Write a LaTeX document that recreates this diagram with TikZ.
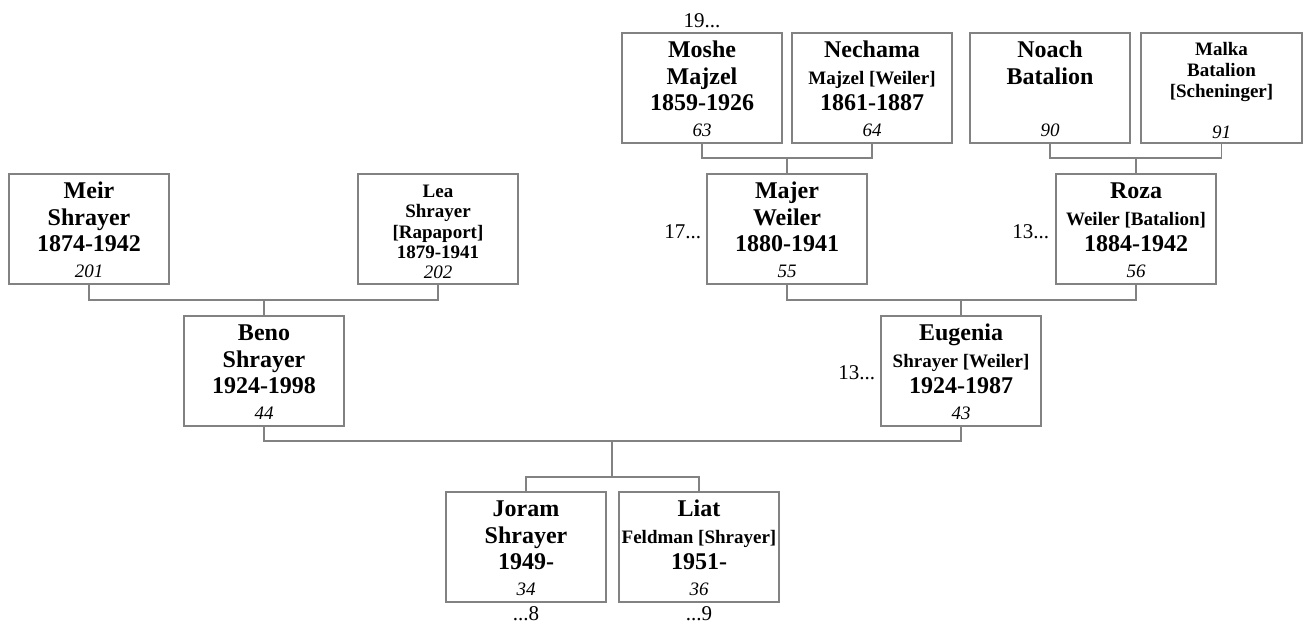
\documentclass[tikz,border=0pt]{standalone}
\usepackage{fontspec}
\setmainfont{Liberation Serif}
\definecolor{lc}{RGB}{130,130,130}
\newcommand\fbig{\fontsize{24}{26}\selectfont\bfseries}
\newcommand\fmid{\fontsize{19}{21}\selectfont\bfseries}
\newcommand\fnum{\fontsize{19}{21}\selectfont\itshape}
\newcommand\flab{\fontsize{21}{23}\selectfont}
\tikzset{
  pbox/.style={draw=lc, line width=1.3pt, rectangle, minimum width=160pt, minimum height=110pt, inner sep=0pt, outer sep=0pt, anchor=north west},
  txt/.style={anchor=base, inner sep=0pt, outer sep=0pt},
  conn/.style={draw=lc, line width=1.3pt},
  lab/.style={inner sep=0pt, outer sep=0pt, font=\flab},
}
% name, x, y, line1, line2, line3, num
\newcommand\person[7]{%
  \node[pbox] (#1) at (#2,#3) {};
  \node[txt] at ([yshift=-24.5pt]#1.north) {#4};
  \node[txt] at ([yshift=-51pt]#1.north) {#5};
  \node[txt] at ([yshift=-77pt]#1.north) {#6};
  \node[txt] at ([yshift=-103.5pt]#1.north) {\fnum #7};
}
\begin{document}
\begin{tikzpicture}[x=1pt,y=-1pt]
\useasboundingbox (0,0) rectangle (1303,625);
% generation 1
\person{moshe}{622}{33}{\fbig Moshe}{\fbig Majzel}{\fbig 1859-1926}{63}
\person{nechama}{792}{33}{\fbig Nechama}{\fmid Majzel [Weiler]}{\fbig 1861-1887}{64}
\person{noach}{970}{33}{\fbig Noach}{\fbig Batalion}{}{90}
\node[pbox, minimum width=161pt] (malka) at (1141,33) {};
\node[txt] at ([yshift=-22pt]malka.north) {\fmid Malka};
\node[txt] at ([yshift=-43pt]malka.north) {\fmid Batalion};
\node[txt] at ([yshift=-64pt]malka.north) {\fmid [Scheninger]};
\node[txt] at ([yshift=-105pt]malka.north) {\fnum 91};
% generation 2
\person{meir}{9}{174}{\fbig Meir}{\fbig Shrayer}{\fbig 1874-1942}{201}
\node[pbox] (lea) at (358,174) {};
\node[txt] at ([yshift=-23pt]lea.north) {\fmid Lea};
\node[txt] at ([yshift=-43.5pt]lea.north) {\fmid Shrayer};
\node[txt] at ([yshift=-64pt]lea.north) {\fmid [Rapaport]};
\node[txt] at ([yshift=-84pt]lea.north) {\fmid 1879-1941};
\node[txt] at ([yshift=-104pt]lea.north) {\fnum 202};
\person{majer}{707}{174}{\fbig Majer}{\fbig Weiler}{\fbig 1880-1941}{55}
\person{roza}{1056}{174}{\fbig Roza}{\fmid Weiler [Batalion]}{\fbig 1884-1942}{56}
% generation 3
\person{beno}{184}{316}{\fbig Beno}{\fbig Shrayer}{\fbig 1924-1998}{44}
\person{eugenia}{881}{316}{\fbig Eugenia}{\fmid Shrayer [Weiler]}{\fbig 1924-1987}{43}
% generation 4
\person{joram}{446}{492}{\fbig Joram}{\fbig Shrayer}{\fbig 1949-}{34}
\person{liat}{619}{492}{\fbig Liat}{\fmid Feldman [Shrayer]}{\fbig 1951-}{36}
% side labels
\node[lab, anchor=base] (l19) at ([yshift=6pt]moshe.north) {19...};
\node[lab, anchor=base east] (l17) at ([xshift=-6pt,yshift=-9pt]majer.west) {17...};
\node[lab, anchor=base east] (l13a) at ([xshift=-7pt,yshift=-9pt]roza.west) {13...};
\node[lab, anchor=base east] (l13b) at ([xshift=-6pt,yshift=-8pt]eugenia.west) {13...};
\node[lab, anchor=base] (l8) at ([yshift=-18pt]joram.south) {...8};
\node[lab, anchor=base] (l9) at ([yshift=-18pt]liat.south) {...9};
% junctions
\coordinate (j1) at (787,158);
\coordinate (j2) at (1136,158);
\coordinate (j3) at (264,300);
\coordinate (j4) at (961,300);
\coordinate (j5) at (612,441);
\coordinate (j6) at (612,477);
% connectors
\draw[conn] (moshe.south) |- (j1) -| (nechama.south);
\draw[conn] (j1) -- (majer.north);
\draw[conn] (noach.south) |- (j2) -| (malka.south);
\draw[conn] (j2) -- (roza.north);
\draw[conn] (meir.south) |- (j3) -| (lea.south);
\draw[conn] (j3) -- (beno.north);
\draw[conn] (majer.south) |- (j4) -| (roza.south);
\draw[conn] (j4) -- (eugenia.north);
\draw[conn] (beno.south) |- (j5) -| (eugenia.south);
\draw[conn] (j5) -- (j6);
\draw[conn] (joram.north) |- (j6) -| (liat.north);
\end{tikzpicture}
\end{document}
